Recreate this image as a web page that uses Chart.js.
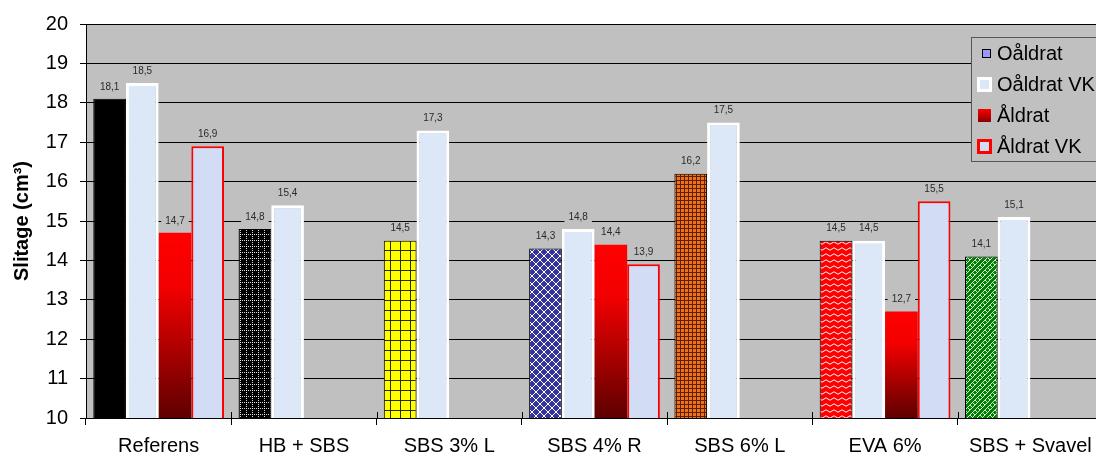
<!DOCTYPE html>
<html>
<head>
<meta charset="utf-8">
<script src="https://cdn.jsdelivr.net/npm/chart.js@4/dist/chart.umd.min.js"></script>
<style>
  html, body { margin: 0; padding: 0; background: #fff; overflow: hidden; }
  #wrap { width: 1110px; height: 458px; }
</style>
</head>
<body>
<div id="wrap"><canvas id="chart" width="1110" height="458"></canvas></div>
<script>
const categories = ['Referens', 'HB + SBS', 'SBS 3% L', 'SBS 4% R', 'SBS 6% L', 'EVA 6%', 'SBS + Svavel'];
const seriesNames = ['Oåldrat', 'Oåldrat VK', 'Åldrat', 'Åldrat VK'];
const oaldrat = [18.1, 14.8, 14.5, 14.3, 16.2, 14.5, 14.1];
const oaldratVK = [18.5, 15.4, 17.3, 14.8, 17.5, 14.5, 15.1];
const aldrat = [14.7, null, null, 14.4, null, 12.7, null];
const aldratVK = [16.9, null, null, 13.9, null, 15.5, null];
const yTicks = [10, 11, 12, 13, 14, 15, 16, 17, 18, 19, 20];

const FONT = '"Liberation Sans", Arial, sans-serif';
const canvas = document.getElementById('chart');
const ctx = canvas.getContext('2d');

function makePattern(w, h, draw) {
    const c = document.createElement('canvas');
    c.width = w;
    c.height = h;
    const g = c.getContext('2d');
    draw(g, w, h);
    return ctx.createPattern(c, 'repeat');
}

// fill patterns for the unaged bars, one per mix
const patterns = [
    '#000000',
    makePattern(6, 6, (g, w, h) => {
        g.fillStyle = '#000';
        g.fillRect(0, 0, w, h);
        g.fillStyle = 'rgba(255,255,255,0.85)';
        for (let i = 0; i < w; i += 2) {
            g.fillRect(i, 0, 1, 1);
            g.fillRect(0, i, 1, 1);
        }
    }),
    makePattern(10, 10, (g, w, h) => {
        g.fillStyle = '#ffff00';
        g.fillRect(0, 0, w, h);
        g.fillStyle = '#2a2a00';
        g.fillRect(0, 0, w, 1);
        g.fillRect(0, 0, 1, h);
    }),
    makePattern(8, 8, (g, w, h) => {
        g.fillStyle = '#333399';
        g.fillRect(0, 0, w, h);
        g.strokeStyle = '#ffffff';
        g.lineWidth = 1;
        g.beginPath();
        g.moveTo(0, 0); g.lineTo(w, h);
        g.moveTo(w, 0); g.lineTo(0, h);
        g.stroke();
    }),
    makePattern(4, 4, (g, w, h) => {
        g.fillStyle = '#f0701c';
        g.fillRect(0, 0, w, h);
        g.fillStyle = '#5a2200';
        g.fillRect(0, 0, w, 1);
        g.fillRect(0, 0, 1, h);
    }),
    makePattern(8, 6, (g, w, h) => {
        g.fillStyle = '#ff0000';
        g.fillRect(0, 0, w, h);
        g.strokeStyle = '#ffffff';
        g.lineWidth = 1;
        g.beginPath();
        g.moveTo(0, 3);
        g.quadraticCurveTo(2, 0.5, 4, 3);
        g.quadraticCurveTo(6, 5.5, 8, 3);
        g.stroke();
    }),
    makePattern(10, 10, (g, w, h) => {
        g.fillStyle = '#008000';
        g.fillRect(0, 0, w, h);
        g.strokeStyle = '#d8f0d8';
        g.lineWidth = 1;
        g.beginPath();
        g.moveTo(0, 10); g.lineTo(10, 0);
        g.moveTo(-5, 10); g.lineTo(5, 0);
        g.moveTo(5, 10); g.lineTo(15, 0);
        g.moveTo(2.5, 2.5); g.lineTo(5, 5);
        g.moveTo(7.5, 7.5); g.lineTo(10, 10);
        g.moveTo(5, 0); g.lineTo(7.5, 2.5);
        g.moveTo(0, 5); g.lineTo(2.5, 7.5);
        g.stroke();
    })
];

const vkFill = '#dce8f7';
const aldratVKFill = '#d2dcf4';

function aldratGradient(context) {
    const chart = context.chart;
    const area = chart.chartArea;
    if (!area || context.raw == null) return '#ff0000';
    const top = chart.scales.y.getPixelForValue(context.raw);
    const g = chart.ctx.createLinearGradient(0, top, 0, area.bottom);
    g.addColorStop(0, '#ff0000');
    g.addColorStop(0.3, '#f20000');
    g.addColorStop(1, '#5e0000');
    return g;
}

const plotBackground = {
    id: 'plotBackground',
    beforeDraw(chart) {
        const a = chart.chartArea;
        const c = chart.ctx;
        c.save();
        c.fillStyle = '#c0c0c0';
        c.fillRect(a.left, a.top, a.right - a.left, a.bottom - a.top);
        c.restore();
    }
};

// short category separators that poke up through the x axis line
const crossTicks = {
    id: 'crossTicks',
    afterDatasetsDraw(chart) {
        const x = chart.scales.x;
        const a = chart.chartArea;
        const half = (x.getPixelForValue(1) - x.getPixelForValue(0)) / 2;
        const c = chart.ctx;
        c.save();
        c.strokeStyle = '#000';
        c.lineWidth = 1;
        c.beginPath();
        for (let i = 1; i < categories.length; i++) {
            const px = Math.round(x.getPixelForValue(i) - half) + 0.5;
            c.moveTo(px, a.bottom - 6);
            c.lineTo(px, a.bottom);
        }
        c.stroke();
        c.restore();
    }
};

const valueLabels = {
    id: 'valueLabels',
    afterDatasetsDraw(chart) {
        const c = chart.ctx;
        c.save();
        c.font = '10px ' + FONT;
        c.textAlign = 'center';
        c.textBaseline = 'middle';
        chart.data.datasets.forEach((ds, i) => {
            const meta = chart.getDatasetMeta(i);
            meta.data.forEach((el, j) => {
                const v = ds.data[j];
                if (v == null) return;
                const text = v.toFixed(1).replace('.', ',');
                const w = c.measureText(text).width + 8;
                const y = el.y - 12;
                c.fillStyle = '#c0c0c0';
                c.fillRect(el.x - w / 2, y - 6, w, 12);
                c.fillStyle = '#2a2a2a';
                c.fillText(text, el.x, y);
            });
        });
        c.restore();
    }
};

const boxLegend = {
    id: 'boxLegend',
    afterDraw(chart) {
        const c = chart.ctx;
        const x = 971, y = 37;
        c.save();
        c.fillStyle = '#c0c0c0';
        c.fillRect(x, y, 150, 124);
        c.strokeStyle = '#555555';
        c.lineWidth = 1;
        c.strokeRect(x + 0.5, y + 0.5, 150, 124);
        c.font = '20px ' + FONT;
        c.textBaseline = 'middle';
        c.textAlign = 'left';
        chart.data.datasets.forEach((ds, i) => {
            const cy = y + 16 + i * 31;
            const sx = 978, sy = cy - 6;
            if (i === 0) {
                c.fillStyle = '#9999ff';
                c.fillRect(sx + 4, sy + 2, 9, 9);
                c.strokeStyle = '#000';
                c.strokeRect(sx + 4.5, sy + 2.5, 8, 8);
            } else if (i === 1) {
                c.fillStyle = '#ffffff';
                c.fillRect(sx - 1, sy - 1, 15, 15);
                c.fillStyle = vkFill;
                c.fillRect(sx + 2, sy + 2, 9, 9);
            } else if (i === 2) {
                const g = c.createLinearGradient(0, sy, 0, sy + 13);
                g.addColorStop(0, '#ff0000');
                g.addColorStop(1, '#8a0000');
                c.fillStyle = g;
                c.fillRect(sx, sy, 13, 13);
            } else {
                c.fillStyle = '#ff0000';
                c.fillRect(sx - 1, sy - 1, 15, 15);
                c.fillStyle = aldratVKFill;
                c.fillRect(sx + 2, sy + 2, 9, 9);
            }
            c.fillStyle = '#000';
            c.fillText(ds.label, 997, cy + 1);
        });
        c.restore();
    }
};

new Chart(canvas, {
    type: 'bar',
    data: {
        labels: categories,
        datasets: [
            {
                label: seriesNames[0],
                data: oaldrat,
                backgroundColor: patterns,
                borderColor: '#000000',
                borderWidth: 1
            },
            {
                label: seriesNames[1],
                data: oaldratVK,
                backgroundColor: vkFill,
                borderColor: '#ffffff',
                borderWidth: 3
            },
            {
                label: seriesNames[2],
                data: aldrat,
                backgroundColor: aldratGradient,
                borderWidth: 0
            },
            {
                label: seriesNames[3],
                data: aldratVK,
                backgroundColor: aldratVKFill,
                borderColor: '#ff0000',
                borderWidth: 2
            }
        ]
    },
    options: {
        responsive: false,
        animation: false,
        categoryPercentage: 0.9,
        barPercentage: 1.0,
        layout: { padding: { top: 23, right: 7, left: 0, bottom: 0 } },
        plugins: {
            legend: { display: false },
            tooltip: { enabled: false },
            title: { display: false }
        },
        scales: {
            x: {
                grid: {
                    drawOnChartArea: false,
                    color: '#000',
                    tickLength: 7,
                    offset: true
                },
                border: { color: '#000', width: 1 },
                ticks: {
                    color: '#000',
                    padding: 9,
                    maxRotation: 0,
                    font: { family: FONT, size: 20 }
                },
                afterFit(scale) { scale.height = 40; }
            },
            y: {
                min: 10,
                max: 20,
                afterBuildTicks(scale) {
                    scale.ticks = yTicks.map(v => ({ value: v }));
                },
                grid: {
                    color: '#000',
                    lineWidth: 1,
                    tickLength: 6
                },
                border: { color: '#000', width: 1 },
                ticks: {
                    color: '#000',
                    padding: 12,
                    font: { family: FONT, size: 20 }
                },
                title: {
                    display: true,
                    text: 'Slitage (cm³)',
                    color: '#000',
                    padding: { top: 10, bottom: 0 },
                    font: { family: FONT, size: 20, weight: 'bold' }
                },
                afterFit(scale) { scale.width = 86; }
            }
        }
    },
    plugins: [plotBackground, crossTicks, valueLabels, boxLegend]
});
</script>
</body>
</html>
